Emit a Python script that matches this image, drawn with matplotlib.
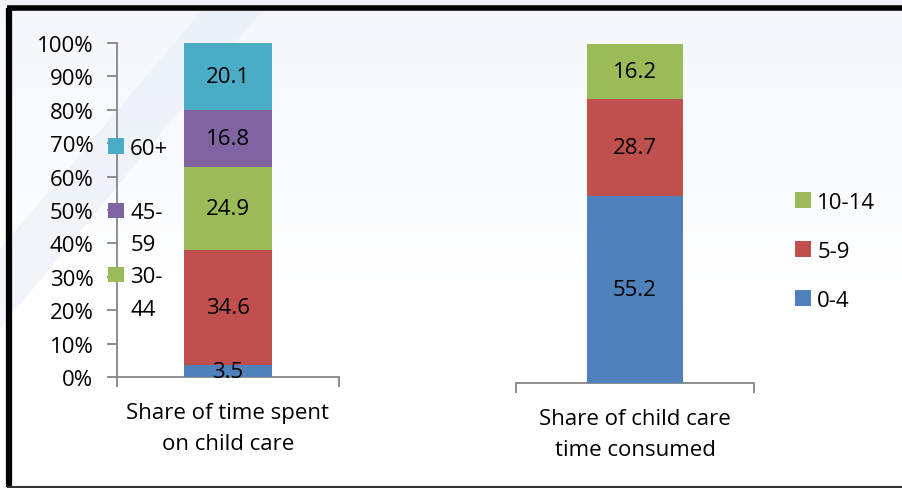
import matplotlib.pyplot as plt
import numpy as np
from matplotlib.patches import Polygon, Patch

plt.rcParams['font.family'] = ['Open Sans', 'DejaVu Sans']

# left chart: share of time spent on child care, by age of carer
left_groups = ['0-14', '15-29', '30-44', '45-59', '60+']
left_values = [3.5, 34.6, 24.9, 16.8, 20.1]
left_colors = ['#4F81BD', '#C0504D', '#9BBB59', '#8064A2', '#4BACC6']
# legend rows as Excel wrapped them ('' rows carry no marker)
left_legend_rows = [('60+', '60+'), (None, ''), ('45-59', '45-'), (None, '59'),
                    ('30-44', '30-'), (None, '44')]

# right chart: share of child care time consumed, by age of child
right_groups = ['0-4', '5-9', '10-14']
right_values = [55.2, 28.7, 16.2]
right_colors = ['#4F81BD', '#C0504D', '#9BBB59']

FS = 16
W, H = 903, 489
fig = plt.figure(figsize=(W / 100, H / 100), dpi=100)
fig.patch.set_facecolor('white')

# faint background gradient + watermark stripe
bg = fig.add_axes([0, 0, 1, 1], zorder=-5)
top_c = np.array([0.955, 0.967, 0.983])
t = np.clip(np.linspace(0, 1, 200) * 1.6, 0, 1).reshape(-1, 1, 1)
grad = top_c * (1 - t) + np.ones(3) * t
bg.imshow(grad, extent=[0, 1, 0, 1], aspect='auto', origin='upper')
bg.add_patch(Polygon([[205 / W, 1 - 8 / H], [265 / W, 1 - 8 / H], [0, 1 - 330 / H], [0, 1 - 250 / H]],
                     closed=True, facecolor='#e6edf6', edgecolor='none', alpha=0.5))
bg.fill_between([0, 1], [1 - 8 / H] * 2, [1, 1], color='#eef2f7')
bg.set_xlim(0, 1)
bg.set_ylim(0, 1)
bg.axis('off')


def px(x0, y_top, x1, y_bot):
    return [x0 / W, 1 - y_bot / H, (x1 - x0) / W, (y_bot - y_top) / H]


def style_axes(ax, show_y):
    for s in ['top', 'right']:
        ax.spines[s].set_visible(False)
    ax.spines['bottom'].set_color('#868686')
    ax.spines['bottom'].set_linewidth(1.3)
    if show_y:
        ax.spines['left'].set_color('#868686')
        ax.spines['left'].set_linewidth(1.3)
    else:
        ax.spines['left'].set_visible(False)
    ax.set_facecolor('none')
    ax.set_xlim(-0.5, 0.5)
    ax.set_ylim(0, 100)
    ax.set_xticks([-0.5, 0.5], minor=True)
    ax.tick_params(axis='x', which='minor', length=7, width=1.3, color='#868686', direction='out')
    ax.tick_params(axis='x', which='major', length=0, pad=18, labelsize=FS)


def stack(ax, values, colors, groups):
    bottom = 0
    bars = []
    for v, c, g in zip(values, colors, groups):
        b = ax.bar(0, v, width=0.4, bottom=bottom, color=c, label=g, zorder=3)
        ax.text(0, bottom + v / 2, f'{v:.1f}', ha='center', va='center', fontsize=FS,
                color='black', zorder=4)
        bars.append(b)
        bottom += v
    return bars


# left panel
ax1 = fig.add_axes(px(117, 44, 339, 378))
style_axes(ax1, True)
bars1 = stack(ax1, left_values, left_colors, left_groups)
ax1.set_yticks(np.arange(0, 101, 10))
ax1.set_yticklabels([f'{v}%' for v in range(0, 101, 10)])
ax1.tick_params(axis='y', length=7, width=1.3, color='#868686', labelsize=FS, pad=10)
ax1.set_xticks([0])
ax1.set_xticklabels(['Share of time spent\non child care'], linespacing=1.6)

h1 = []
for g, lab in left_legend_rows:
    if g is None:
        h1.append(Patch(facecolor='none', edgecolor='none'))
    else:
        h1.append(bars1[left_groups.index(g)])
fig.legend(h1, [lab for g, lab in left_legend_rows], loc='upper left',
           bbox_to_anchor=(108 / W, 1 - 139 / H), frameon=False, fontsize=FS,
           handlelength=0.7, handleheight=0.7, handletextpad=0.3,
           labelspacing=0.5, borderpad=0, borderaxespad=0)

# right panel
ax2 = fig.add_axes(px(516, 45, 754, 384))
style_axes(ax2, False)
bars2 = stack(ax2, right_values, right_colors, right_groups)
ax2.set_yticks([])
ax2.set_xticks([0])
ax2.set_xticklabels(['Share of child care\ntime consumed'], linespacing=1.6)

fig.legend(bars2[::-1], right_groups[::-1], loc='upper left',
           bbox_to_anchor=(795 / W, 1 - 193 / H), frameon=False, fontsize=FS,
           handlelength=0.7, handleheight=0.7, handletextpad=0.3,
           labelspacing=1.25, borderpad=0, borderaxespad=0)

# frame around the chart (left, top, bottom only - right edge is cut off)
fig.add_artist(plt.Line2D([9 / W, 9 / W], [1 - 8.5 / H, 1 - 488 / H], color='black', lw=4.5,
                          transform=fig.transFigure, solid_capstyle='butt'))
fig.add_artist(plt.Line2D([7 / W, 1], [1 - 8.5 / H, 1 - 8.5 / H], color='black', lw=4,
                          transform=fig.transFigure, solid_capstyle='butt'))
fig.add_artist(plt.Line2D([7 / W, 1], [1 - 488 / H, 1 - 488 / H], color='#333333', lw=1.5,
                          transform=fig.transFigure, solid_capstyle='butt'))

fig.savefig('out.png', dpi=100)
